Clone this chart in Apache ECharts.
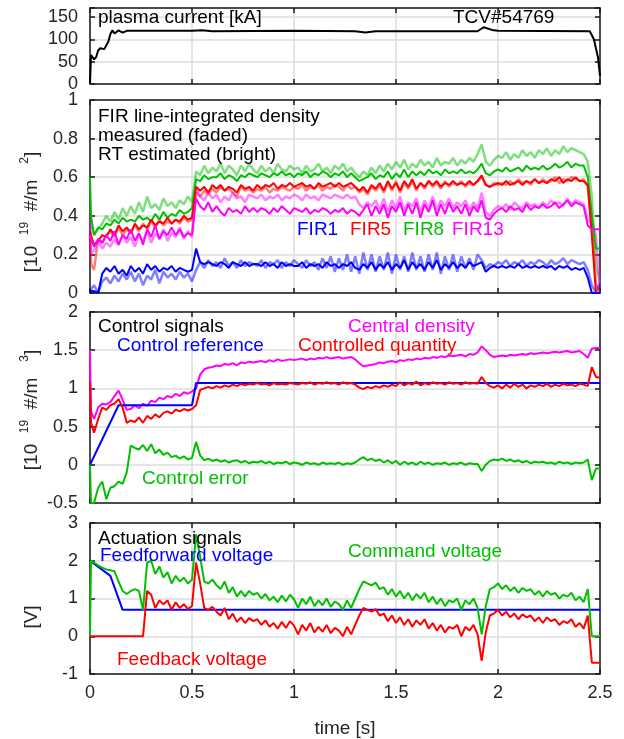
<!DOCTYPE html>
<html>
<head>
<meta charset="utf-8">
<title>TCV#54769 density control</title>
<script src="https://cdn.jsdelivr.net/npm/echarts@6/dist/echarts.min.js"></script>
<style>
  html, body { margin: 0; padding: 0; background: #fff; }
  #chart { width: 624px; height: 739px; }
</style>
</head>
<body>
<div id="chart"></div>
<script>
// sample times [s] shared by the noisy traces
var T = [0, 0.005,
  0.02, 0.04, 0.06, 0.08, 0.1, 0.12, 0.14, 0.16, 0.18, 0.2,
  0.22, 0.24, 0.26, 0.28, 0.3, 0.32, 0.34, 0.36, 0.38, 0.4,
  0.42, 0.44, 0.46, 0.48, 0.5, 0.52, 0.54, 0.56, 0.58, 0.6,
  0.62, 0.64, 0.66, 0.68, 0.7, 0.72, 0.74, 0.76, 0.78, 0.8,
  0.82, 0.84, 0.86, 0.88, 0.9, 0.92, 0.94, 0.96, 0.98, 1.0,
  1.02, 1.04, 1.06, 1.08, 1.1, 1.12, 1.14, 1.16, 1.18, 1.2,
  1.22, 1.24, 1.26, 1.28, 1.3, 1.32, 1.34, 1.36, 1.38, 1.4,
  1.42, 1.44, 1.46, 1.48, 1.5, 1.52, 1.54, 1.56, 1.58, 1.6,
  1.62, 1.64, 1.66, 1.68, 1.7, 1.72, 1.74, 1.76, 1.78, 1.8,
  1.82, 1.84, 1.86, 1.88, 1.9, 1.92, 1.94, 1.96, 1.98, 2.0,
  2.02, 2.04, 2.06, 2.08, 2.1, 2.12, 2.14, 2.16, 2.18, 2.2,
  2.22, 2.24, 2.26, 2.28, 2.3, 2.32, 2.34, 2.36, 2.38, 2.4,
  2.42, 2.44, 2.46, 2.48, 2.5];

// plasma current [kA] as [t, Ip]
var plasmaCurrent = [[0, 0], [0.005, 65], [0.02, 55], [0.03, 60], [0.04, 75], [0.05, 80], [0.07, 78],
  [0.09, 95], [0.1, 112], [0.11, 120], [0.12, 113], [0.14, 120], [0.16, 115], [0.18, 119], [0.2, 119],
  [0.5, 119], [0.55, 120], [0.6, 118], [1.0, 119], [1.3, 118], [1.35, 115], [1.4, 118], [1.9, 118],
  [1.93, 127], [1.97, 121], [2.0, 119], [2.45, 118], [2.47, 100], [2.49, 60], [2.5, 18]];

// FIR line-integrated density, measured (faded) and RT estimated (bright)
var fir8Meas = [0.38, 0.36,
  0.3, 0.33, 0.36, 0.4, 0.37, 0.42, 0.38, 0.44, 0.4, 0.45,
  0.41, 0.47, 0.42, 0.5, 0.44, 0.46, 0.43, 0.49, 0.45, 0.47,
  0.44, 0.48, 0.46, 0.5, 0.47, 0.63, 0.61, 0.66, 0.62, 0.65,
  0.63, 0.67, 0.62, 0.66, 0.64, 0.61, 0.66, 0.63, 0.67, 0.64,
  0.62, 0.66, 0.63, 0.65, 0.62, 0.67, 0.64, 0.63, 0.66, 0.64,
  0.65, 0.62, 0.66, 0.63, 0.64, 0.67, 0.63, 0.65, 0.62, 0.66,
  0.64, 0.67, 0.63, 0.65, 0.62, 0.6, 0.63, 0.61, 0.65, 0.62,
  0.66, 0.63, 0.67, 0.64, 0.68, 0.65, 0.69, 0.64, 0.67, 0.65,
  0.69, 0.66, 0.68, 0.65, 0.7, 0.66, 0.68, 0.67, 0.7, 0.66,
  0.69, 0.67, 0.7, 0.68, 0.72, 0.77, 0.68, 0.66, 0.69, 0.71,
  0.7, 0.73, 0.69, 0.72, 0.7, 0.74, 0.71, 0.73, 0.7, 0.74,
  0.72, 0.75, 0.71, 0.74, 0.72, 0.76, 0.73, 0.75, 0.74, 0.73,
  0.72, 0.68, 0.5, 0.15, 0.05];
var fir8Rt = [0.6, 0.4,
  0.3, 0.34, 0.33, 0.36, 0.35, 0.38, 0.36, 0.39, 0.37, 0.38,
  0.37, 0.4, 0.38, 0.39, 0.37, 0.41, 0.38, 0.42, 0.39, 0.41,
  0.4, 0.43, 0.41, 0.42, 0.44, 0.59, 0.58, 0.61, 0.59, 0.6,
  0.6, 0.62, 0.59, 0.61, 0.6, 0.58, 0.61, 0.6, 0.62, 0.61,
  0.6, 0.62, 0.61, 0.6, 0.62, 0.61, 0.63, 0.61, 0.62, 0.6,
  0.62, 0.61, 0.63, 0.6, 0.62, 0.61, 0.63, 0.62, 0.6, 0.62,
  0.61, 0.63, 0.6, 0.62, 0.6, 0.58, 0.59, 0.6, 0.62, 0.59,
  0.61, 0.6, 0.63, 0.59, 0.62, 0.6, 0.64, 0.6, 0.63, 0.61,
  0.63, 0.61, 0.64, 0.62, 0.63, 0.61, 0.64, 0.62, 0.63, 0.62,
  0.64, 0.62, 0.63, 0.62, 0.64, 0.67, 0.62, 0.61, 0.63, 0.64,
  0.63, 0.65, 0.63, 0.64, 0.65, 0.63, 0.66, 0.64, 0.65, 0.64,
  0.66, 0.64, 0.65, 0.67, 0.65, 0.66, 0.68, 0.65, 0.67, 0.66,
  0.66, 0.6, 0.4, 0.23, 0.23];
var fir5Meas = [0.3, 0.15,
  0.12, 0.28, 0.26, 0.3, 0.32, 0.29, 0.34, 0.3, 0.33, 0.31,
  0.35, 0.32, 0.36, 0.33, 0.37, 0.34, 0.38, 0.35, 0.37, 0.36,
  0.38, 0.36, 0.39, 0.37, 0.38, 0.52, 0.5, 0.53, 0.51, 0.54,
  0.52, 0.55, 0.53, 0.54, 0.52, 0.5, 0.55, 0.53, 0.54, 0.52,
  0.54, 0.53, 0.55, 0.52, 0.54, 0.53, 0.55, 0.54, 0.53, 0.55,
  0.54, 0.56, 0.53, 0.55, 0.54, 0.56, 0.53, 0.55, 0.54, 0.56,
  0.55, 0.53, 0.56, 0.54, 0.55, 0.52, 0.54, 0.51, 0.55, 0.53,
  0.56, 0.52, 0.57, 0.53, 0.58, 0.52, 0.57, 0.54, 0.58, 0.53,
  0.57, 0.54, 0.58, 0.55, 0.57, 0.54, 0.58, 0.55, 0.57, 0.56,
  0.58, 0.55, 0.57, 0.56, 0.58, 0.6, 0.56, 0.55, 0.57, 0.56,
  0.57, 0.56, 0.58, 0.56, 0.59, 0.57, 0.58, 0.56, 0.59, 0.57,
  0.59, 0.57, 0.58, 0.6, 0.57, 0.59, 0.58, 0.6, 0.59, 0.58,
  0.59, 0.55, 0.35, 0.05, 0.0];
var fir5Rt = [0.32, 0.3,
  0.25, 0.27, 0.3, 0.29, 0.33, 0.3, 0.35, 0.32, 0.34, 0.31,
  0.36, 0.33, 0.35, 0.34, 0.38, 0.35, 0.37, 0.36, 0.39, 0.36,
  0.38, 0.37, 0.4, 0.38, 0.39, 0.55, 0.53, 0.55, 0.52, 0.56,
  0.54, 0.56, 0.53, 0.55, 0.54, 0.52, 0.56, 0.54, 0.55, 0.53,
  0.56, 0.54, 0.56, 0.55, 0.57, 0.54, 0.56, 0.55, 0.57, 0.55,
  0.56, 0.57, 0.55, 0.56, 0.54, 0.57, 0.55, 0.56, 0.57, 0.55,
  0.57, 0.55, 0.56, 0.57, 0.55, 0.53, 0.55, 0.52, 0.56, 0.54,
  0.57, 0.53, 0.58, 0.54, 0.57, 0.53, 0.58, 0.55, 0.59, 0.54,
  0.57, 0.55, 0.58, 0.56, 0.58, 0.55, 0.57, 0.56, 0.58, 0.56,
  0.57, 0.56, 0.58, 0.56, 0.58, 0.61, 0.56, 0.55, 0.56, 0.57,
  0.56, 0.58, 0.56, 0.57, 0.58, 0.56, 0.58, 0.57, 0.59, 0.57,
  0.58, 0.57, 0.59, 0.58, 0.6, 0.57, 0.59, 0.58, 0.6, 0.58,
  0.58, 0.56, 0.3, 0.0, 0.0];
var fir13Meas = [0.38, 0.2,
  0.22, 0.27, 0.23, 0.26, 0.24, 0.28, 0.25, 0.3, 0.26, 0.29,
  0.24, 0.3, 0.27, 0.32, 0.26, 0.31, 0.28, 0.33, 0.27, 0.31,
  0.29, 0.34, 0.28, 0.32, 0.29, 0.54, 0.5, 0.48, 0.52, 0.49,
  0.51, 0.47, 0.5, 0.48, 0.52, 0.49, 0.5, 0.47, 0.51, 0.5,
  0.49, 0.51, 0.48, 0.5, 0.49, 0.51, 0.48, 0.5, 0.49, 0.51,
  0.5, 0.48, 0.51, 0.49, 0.5, 0.48, 0.51, 0.5, 0.49, 0.51,
  0.5, 0.49, 0.51, 0.49, 0.5, 0.46, 0.44, 0.47, 0.45, 0.48,
  0.43, 0.49, 0.42, 0.48, 0.44, 0.5, 0.43, 0.47, 0.45, 0.49,
  0.42, 0.48, 0.44, 0.5, 0.43, 0.48, 0.45, 0.49, 0.44, 0.47,
  0.45, 0.48, 0.43, 0.47, 0.44, 0.52, 0.42, 0.4, 0.43, 0.45,
  0.44, 0.46, 0.43, 0.47, 0.45, 0.44, 0.47, 0.45, 0.46, 0.44,
  0.47, 0.45, 0.48, 0.46, 0.47, 0.45, 0.49, 0.46, 0.48, 0.47,
  0.46, 0.38, 0.36, 0.3, 0.03];
var fir13Rt = [0.3, 0.28,
  0.24, 0.28, 0.26, 0.3, 0.27, 0.32, 0.25, 0.3, 0.28, 0.33,
  0.27, 0.31, 0.25, 0.33, 0.29, 0.35, 0.28, 0.32, 0.3, 0.34,
  0.3, 0.33, 0.29, 0.31, 0.3, 0.49, 0.45, 0.43, 0.47, 0.42,
  0.45, 0.42, 0.4, 0.44, 0.42, 0.43, 0.41, 0.45, 0.42, 0.44,
  0.42, 0.44, 0.43, 0.41, 0.44, 0.42, 0.45, 0.43, 0.41, 0.44,
  0.43, 0.42, 0.44, 0.41, 0.43, 0.42, 0.44, 0.43, 0.41, 0.43,
  0.42, 0.44, 0.41, 0.43, 0.42, 0.4, 0.43, 0.46, 0.4, 0.45,
  0.41, 0.46, 0.39, 0.45, 0.42, 0.47, 0.4, 0.46, 0.41, 0.47,
  0.39, 0.46, 0.42, 0.48, 0.4, 0.46, 0.41, 0.47, 0.42, 0.45,
  0.41, 0.46, 0.4, 0.45, 0.42, 0.48, 0.39, 0.38, 0.41, 0.43,
  0.44, 0.42, 0.45, 0.43, 0.44, 0.42, 0.46, 0.43, 0.45, 0.44,
  0.46, 0.44, 0.45, 0.47, 0.44, 0.46, 0.48, 0.45, 0.47, 0.46,
  0.45, 0.35, 0.33, 0.33, 0.33];
var fir1Meas = [0.0, 0.02,
  0.04, 0.0, 0.06, 0.08, 0.05, 0.09, 0.06, 0.1, 0.07, 0.11,
  0.06, 0.1, 0.04, 0.09, 0.07, 0.12, 0.05, 0.11, 0.08, 0.1,
  0.07, 0.11, 0.08, 0.1, 0.06, 0.12, 0.16, 0.13, 0.17, 0.14,
  0.16, 0.13, 0.18, 0.14, 0.16, 0.13, 0.17, 0.14, 0.16, 0.15,
  0.14, 0.17, 0.13, 0.16, 0.15, 0.17, 0.13, 0.16, 0.14, 0.17,
  0.15, 0.13, 0.17, 0.14, 0.16, 0.12, 0.18, 0.13, 0.19, 0.11,
  0.18, 0.12, 0.2, 0.11, 0.19, 0.1, 0.21, 0.12, 0.2, 0.11,
  0.19, 0.12, 0.21, 0.1, 0.2, 0.12, 0.19, 0.11, 0.21, 0.12,
  0.19, 0.11, 0.2, 0.12, 0.21, 0.1, 0.19, 0.12, 0.2, 0.11,
  0.19, 0.13, 0.18, 0.12, 0.2, 0.17, 0.13, 0.15, 0.14, 0.16,
  0.15, 0.17, 0.14, 0.16, 0.15, 0.17, 0.14, 0.16, 0.15, 0.17,
  0.16, 0.14, 0.17, 0.15, 0.16, 0.18, 0.15, 0.17, 0.16, 0.15,
  0.16, 0.12, 0.04, 0.0, 0.05];
var fir1Rt = [0.01, 0.01,
  0.01, 0.0, 0.1, 0.13, 0.11, 0.14, 0.1, 0.12, 0.09, 0.14,
  0.11, 0.13, 0.1, 0.15, 0.12, 0.14, 0.11, 0.13, 0.12, 0.14,
  0.11, 0.13, 0.12, 0.11, 0.12, 0.23, 0.16, 0.15, 0.16, 0.15,
  0.14, 0.16, 0.15, 0.13, 0.16, 0.15, 0.14, 0.16, 0.14, 0.15,
  0.15, 0.14, 0.16, 0.14, 0.15, 0.13, 0.16, 0.14, 0.15, 0.14,
  0.14, 0.16, 0.13, 0.15, 0.14, 0.15, 0.13, 0.16, 0.14, 0.15,
  0.13, 0.15, 0.14, 0.16, 0.13, 0.12, 0.15, 0.13, 0.16, 0.12,
  0.15, 0.13, 0.16, 0.12, 0.15, 0.13, 0.17, 0.12, 0.16, 0.13,
  0.15, 0.12, 0.16, 0.13, 0.17, 0.12, 0.15, 0.13, 0.16, 0.13,
  0.15, 0.13, 0.16, 0.14, 0.15, 0.16, 0.11, 0.13, 0.14, 0.13,
  0.14, 0.13, 0.14, 0.13, 0.15, 0.13, 0.14, 0.13, 0.14, 0.13,
  0.14, 0.13, 0.14, 0.12, 0.14, 0.13, 0.14, 0.12, 0.13, 0.12,
  0.13, 0.08, 0.0, 0.0, 0.0];

// control signals [1e19 m^-3]
var controlRef = [[0, 0], [0.14, 0.78], [0.5, 0.78], [0.52, 1.07], [2.5, 1.07]];
var centralDensity = [1.5, 0.7,
  0.6, 0.75, 0.8, 0.79, 0.82, 0.9, 0.97, 0.85, 0.72, 0.73,
  0.78, 0.74, 0.8, 0.77, 0.84, 0.82, 0.88, 0.86, 0.9, 0.88,
  0.93, 0.9, 0.95, 0.93, 0.96, 1.0, 1.18, 1.25, 1.27, 1.28,
  1.3, 1.29, 1.32, 1.31, 1.33, 1.3, 1.34, 1.33, 1.35, 1.34,
  1.35, 1.36, 1.34, 1.37, 1.35, 1.38, 1.36, 1.37, 1.38, 1.37,
  1.38, 1.39, 1.37, 1.39, 1.38, 1.4, 1.39, 1.41, 1.39, 1.4,
  1.41, 1.39, 1.4, 1.41, 1.38, 1.33, 1.29, 1.3, 1.31, 1.32,
  1.34, 1.33, 1.35, 1.36, 1.34, 1.37, 1.36, 1.38, 1.37, 1.39,
  1.38, 1.4, 1.39, 1.41, 1.4, 1.42, 1.41, 1.43, 1.42, 1.43,
  1.44, 1.42, 1.45, 1.44, 1.47, 1.55, 1.5, 1.44, 1.41, 1.42,
  1.43, 1.42, 1.44, 1.43, 1.44, 1.45, 1.44, 1.46, 1.45, 1.46,
  1.47, 1.46, 1.47, 1.48, 1.47, 1.48, 1.49, 1.47, 1.48, 1.49,
  1.45, 1.4, 1.52, 1.53, 1.53];
var controlledQty = [1.08, 0.55,
  0.42, 0.6, 0.75, 0.72, 0.78, 0.8, 0.86, 0.75, 0.55, 0.58,
  0.56, 0.62, 0.55, 0.64, 0.6, 0.66, 0.62, 0.68, 0.7, 0.67,
  0.72, 0.7, 0.73, 0.71, 0.73, 0.78, 0.98, 1.0, 1.02, 1.0,
  1.03, 1.01, 1.04, 1.02, 1.05, 1.03, 1.06, 1.04, 1.06, 1.05,
  1.07, 1.05, 1.06, 1.04, 1.07, 1.05, 1.06, 1.05, 1.07, 1.06,
  1.05, 1.07, 1.06, 1.08, 1.05, 1.07, 1.06, 1.08, 1.06, 1.07,
  1.05, 1.08, 1.06, 1.07, 1.05, 1.01, 0.99, 1.02, 1.0, 1.03,
  1.01, 1.04, 1.02, 1.05, 1.03, 1.08, 1.04, 1.07, 1.05, 1.09,
  1.04, 1.07, 1.05, 1.08, 1.06, 1.07, 1.05, 1.08, 1.06, 1.07,
  1.05, 1.08, 1.06, 1.07, 1.06, 1.15, 1.07, 1.03, 1.01, 1.04,
  1.0, 1.05, 1.01, 1.06, 1.02, 1.05, 1.0, 1.04, 1.02, 1.05,
  1.03, 1.06, 1.02, 1.05, 1.03, 1.06, 1.04, 1.05, 1.03, 1.06,
  1.05, 1.03, 1.28, 1.15, 1.14];
var controlError = [0, -0.5,
  -0.5, -0.3, -0.22, -0.45, -0.3, -0.28, -0.22, -0.25, -0.1, 0.25,
  0.22, 0.2, 0.26, 0.18, 0.27, 0.15, 0.2, 0.13, 0.16, 0.1,
  0.12, 0.08, 0.11, 0.07, 0.09, 0.3, 0.12, 0.06, 0.08, 0.05,
  0.07, 0.04, 0.06, 0.03, 0.05, 0.06, 0.03, 0.05, 0.02, 0.04,
  0.03, 0.05, 0.02, 0.04, 0.01, 0.03, 0.02, 0.04, 0.01, 0.03,
  0.02, 0.0, 0.03, 0.01, 0.02, 0.0, 0.03, 0.01, 0.02, 0.01,
  0.03, 0.0, 0.02, 0.01, 0.03, 0.07, 0.1, 0.06, 0.08, 0.05,
  0.07, 0.03, 0.06, 0.02, 0.05, 0.0, 0.04, 0.01, 0.03, 0.0,
  0.04, 0.01, 0.03, 0.0, 0.02, 0.01, 0.03, 0.0, 0.02, 0.01,
  0.03, 0.0, 0.02, 0.01, 0.01, -0.08, 0.0, 0.05, 0.07, 0.06,
  0.08, 0.05, 0.07, 0.04, 0.06, 0.03, 0.05, 0.02, 0.04, 0.03,
  0.04, 0.02, 0.03, 0.01, 0.04, 0.02, 0.03, 0.01, 0.03, 0.02,
  0.03, 0.07, -0.2, -0.05, -0.05];

// actuation signals [V]
var feedforward = [[0, 2], [0.1, 1.6], [0.16, 0.7], [2.5, 0.7]];
var feedback = [0, 0,
  0, 0, 0, 0, 0, 0, 0, 0, 0, 0,
  0, 0, 0, 1.2, 1.1, 0.75, 0.95, 0.85, 0.95, 0.7,
  0.9, 0.75, 0.85, 0.72, 0.8, 1.95, 1.4, 0.75, 0.7, 0.78,
  0.65, 0.55, 0.75, 0.45, 0.6, 0.38, 0.5, 0.35, 0.48, 0.4,
  0.45, 0.3, 0.42, 0.25, 0.35, 0.2, 0.38, 0.22, 0.4, 0.28,
  0.05, 0.3, 0.15, 0.35, 0.1, 0.25, 0.12, 0.3, 0.08, 0.22,
  0.15, 0.0, 0.25, 0.05, 0.3, 0.55, 0.75, 0.7, 0.65, 0.72,
  0.55, 0.6, 0.4, 0.55, 0.35, 0.5, 0.3, 0.45, 0.25, 0.42,
  0.3, 0.45, 0.2, 0.35, 0.15, 0.3, 0.1, 0.25, 0.2, 0.3,
  0.0, 0.25, 0.15, 0.3, 0.05, -0.65, 0.1, 0.55, 0.6, 0.7,
  0.55, 0.65, 0.5, 0.6, 0.45, 0.58, 0.5, 0.55, 0.4, 0.5,
  0.35, 0.5, 0.4, 0.45, 0.3, 0.4, 0.35, 0.45, 0.25, 0.35,
  0.2, 0.55, -0.7, -0.7, -0.7];
var command = [0, 2.0,
  1.95, 1.88, 1.82, 1.77, 1.75, 1.72, 1.45, 1.2, 1.12, 1.2,
  1.25, 1.2, 0.7, 1.95, 2.0, 1.65, 1.85, 1.55, 1.7, 1.4,
  1.6, 1.45, 1.55, 1.4, 1.5, 2.7, 2.1, 1.45, 1.4, 1.5,
  1.35, 1.25, 1.45, 1.15, 1.3, 1.05, 1.2, 1.05, 1.2, 1.1,
  1.15, 1.0, 1.12, 0.95, 1.05, 0.9, 1.08, 0.92, 1.1, 0.98,
  0.75, 1.0, 0.85, 1.05, 0.8, 0.95, 0.82, 1.0, 0.78, 0.92,
  0.85, 0.7, 0.95, 0.75, 1.0, 1.25, 1.45, 1.4, 1.35, 1.42,
  1.25, 1.3, 1.1, 1.25, 1.05, 1.2, 1.0, 1.15, 0.95, 1.12,
  1.0, 1.15, 0.9, 1.05, 0.85, 1.0, 0.8, 0.95, 0.9, 1.0,
  0.7, 0.95, 0.85, 1.0, 0.75, 0.05, 0.8, 1.25, 1.3, 1.4,
  1.25, 1.35, 1.2, 1.3, 1.15, 1.28, 1.2, 1.25, 1.1, 1.2,
  1.05, 1.2, 1.1, 1.15, 1.0, 1.1, 1.05, 1.15, 0.95, 1.05,
  0.9, 1.25, 0, 0, 0];

// y ranges of the four panels
var yMin = [0, 0, -0.5, -1];
var yMax = [170, 1, 2, 3];
var yStep = [50, 0.2, 0.5, 1];

var FONT = 'Liberation Sans';
var GRID_TOP = [8, 100, 312, 523];
var GRID_H = [76, 193, 191, 152];
var AXIS_COLOR = '#1a1a1a';

function withTime(vals) {
    return T.map(function (t, i) { return [t, vals[i]]; });
}

var myChart = echarts.init(document.getElementById('chart'));

var grids = [], xAxes = [], yAxes = [];
for (var i = 0; i < 4; i++) {
    grids.push({ left: 90, right: 24, top: GRID_TOP[i], height: GRID_H[i] });
}
// bottom x axes (0-3) and mirror axes on top (4-7)
for (var i = 0; i < 8; i++) {
    var gi = i % 4, isMirror = i >= 4, hasLabels = !isMirror && gi === 3;
    xAxes.push({
        type: 'value', gridIndex: gi, min: 0, max: 2.5, interval: 0.5,
        position: isMirror ? 'top' : 'bottom',
        axisLine: { show: true, onZero: false, lineStyle: { color: AXIS_COLOR, width: 1.5 } },
        axisTick: { show: true, inside: true, length: 5, lineStyle: { color: AXIS_COLOR, width: 1.5 } },
        axisLabel: { show: hasLabels, color: '#262626', fontSize: 18, fontFamily: FONT, margin: 10 },
        splitLine: { show: !isMirror, lineStyle: { color: '#dcdcdc', width: 1.5 } },
        name: hasLabels ? 'time [s]' : '',
        nameLocation: 'middle', nameGap: 45,
        nameTextStyle: { fontSize: 19, fontFamily: FONT, color: '#262626' }
    });
}
// left y axes (0-3) and mirror axes on the right (4-7)
for (var i = 0; i < 8; i++) {
    var gi = i % 4, isMirror = i >= 4;
    yAxes.push({
        type: 'value', gridIndex: gi, min: yMin[gi], max: yMax[gi], interval: yStep[gi],
        position: isMirror ? 'right' : 'left',
        axisLine: { show: true, onZero: false, lineStyle: { color: AXIS_COLOR, width: 1.5 } },
        axisTick: { show: true, inside: true, length: 5, lineStyle: { color: AXIS_COLOR, width: 1.5 } },
        axisLabel: {
            show: !isMirror, color: '#262626', fontSize: 18, fontFamily: FONT, margin: 12,
            formatter: function (v) { return v > 160 ? '' : String(v); }
        },
        splitLine: { show: !isMirror, lineStyle: { color: '#dcdcdc', width: 1.5 } }
    });
}

function line(name, data, panel, color, width, opacity) {
    return {
        name: name, type: 'line', data: data,
        xAxisIndex: panel, yAxisIndex: panel,
        symbol: 'none', animation: false,
        lineStyle: { color: color, width: width, opacity: opacity === undefined ? 1 : opacity }
    };
}

var series = [
    line('plasma current', plasmaCurrent, 0, '#000000', 2),

    line('FIR8 measured', withTime(fir8Meas), 1, '#00c000', 2.5, 0.5),
    line('FIR5 measured', withTime(fir5Meas), 1, '#ff0000', 2.5, 0.5),
    line('FIR13 measured', withTime(fir13Meas), 1, '#ff00ff', 2.5, 0.5),
    line('FIR1 measured', withTime(fir1Meas), 1, '#0000ff', 2.5, 0.5),
    line('FIR8', withTime(fir8Rt), 1, '#00c000', 2),
    line('FIR5', withTime(fir5Rt), 1, '#ff0000', 2),
    line('FIR13', withTime(fir13Rt), 1, '#ff00ff', 2),
    line('FIR1', withTime(fir1Rt), 1, '#0000ff', 2),

    line('Central density', withTime(centralDensity), 2, '#ff00ff', 2),
    line('Control reference', controlRef, 2, '#0000ff', 2),
    line('Controlled quantity', withTime(controlledQty), 2, '#ff0000', 2),
    line('Control error', withTime(controlError), 2, '#00c000', 2),

    line('Feedforward voltage', feedforward, 3, '#0000ff', 2),
    line('Command voltage', withTime(command), 3, '#00c000', 2),
    line('Feedback voltage', withTime(feedback), 3, '#ff0000', 2)
];

// text annotations inside the panels
function label(x, y, text, color) {
    return {
        type: 'text', x: x, y: y, z: 100,
        style: { text: text, fill: color, fontSize: 19, fontFamily: FONT, verticalAlign: 'middle' }
    };
}
// rotated y axis titles with raised exponents
function yTitle(y, text) {
    return {
        type: 'text', x: 30, y: y, rotation: Math.PI / 2, z: 100,
        style: {
            text: text, fill: '#262626', align: 'center', verticalAlign: 'middle',
            fontFamily: FONT,
            rich: {
                n: { fontSize: 19, fontFamily: FONT, lineHeight: 22, verticalAlign: 'bottom' },
                s: { fontSize: 12, fontFamily: FONT, lineHeight: 22, verticalAlign: 'top' }
            }
        }
    };
}

var graphics = [
    label(98, 18, 'plasma current [kA]', '#000'),
    label(453, 18, 'TCV#54769', '#000'),

    label(98, 117, 'FIR line-integrated density', '#000'),
    label(98, 136, 'measured (faded)', '#000'),
    label(98, 155, 'RT estimated (bright)', '#000'),
    label(297, 230, 'FIR1', '#0000ff'),
    label(350, 230, 'FIR5', '#ff0000'),
    label(403, 230, 'FIR8', '#00c000'),
    label(452, 230, 'FIR13', '#ff00ff'),
    yTitle(212, '{n|[10  }{s|19}{n|  #/m   }{s|2}{n|]}'),

    label(98, 327, 'Control signals', '#000'),
    label(117, 346, 'Control reference', '#0000ff'),
    label(348, 327, 'Central density', '#ff00ff'),
    label(298, 346, 'Controlled quantity', '#ff0000'),
    label(142, 479, 'Control error', '#00c000'),
    yTitle(410, '{n|[10  }{s|19}{n|  #/m   }{s|3}{n|]}'),

    label(98, 539, 'Actuation signals', '#000'),
    label(100, 556, 'Feedforward voltage', '#0000ff'),
    label(348, 552, 'Command voltage', '#00c000'),
    label(117, 660, 'Feedback voltage', '#ff0000'),
    yTitle(617, '{n|[V]}')
];

myChart.setOption({
    backgroundColor: '#fff',
    animation: false,
    grid: grids,
    xAxis: xAxes,
    yAxis: yAxes,
    series: series,
    graphic: graphics
});
</script>
</body>
</html>
